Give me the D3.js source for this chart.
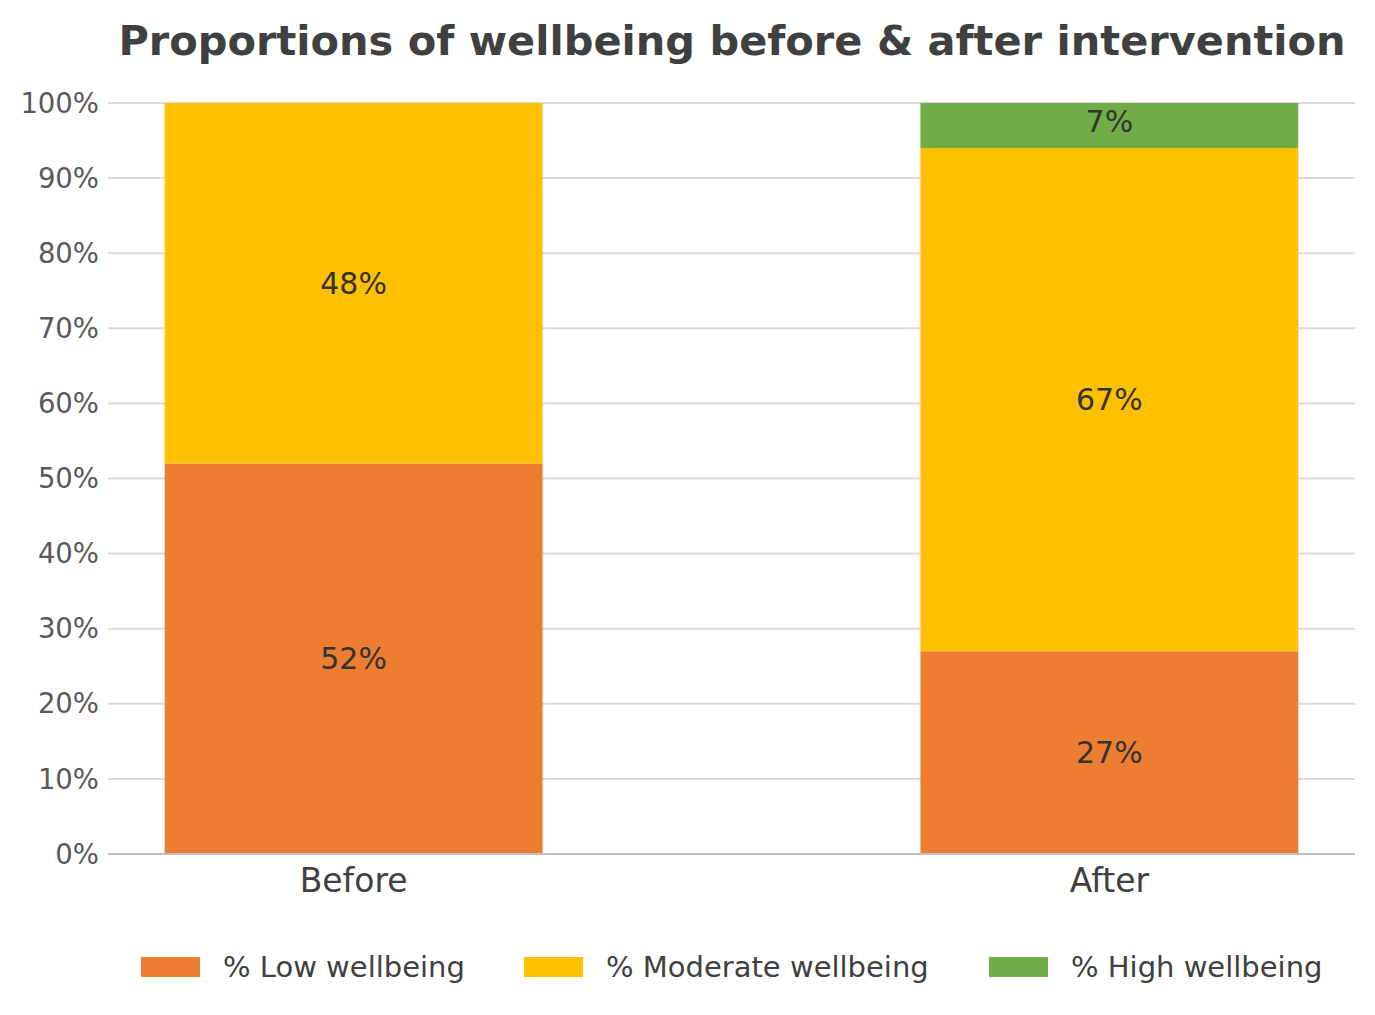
<!DOCTYPE html>
<html>
<head>
<meta charset="utf-8">
<script src="https://cdn.jsdelivr.net/npm/d3@7"></script>
<style>
  body { margin: 0; background: #fff; }
  text { font-family: "DejaVu Sans", sans-serif; }
</style>
</head>
<body>
<div id="chart_container"></div>
<script>
var categories = ["Before", "After"];
var seriesNames = ["% Low wellbeing", "% Moderate wellbeing", "% High wellbeing"];
var lowValues = [52, 27];
var moderateValues = [48, 67];
var highValues = [0, 7];
var yTicks = [0, 10, 20, 30, 40, 50, 60, 70, 80, 90, 100];

var colors = ["#ED7D31", "#FFC000", "#70AD47"];

var width = 1375, height = 1015;
var margin = { top: 103, right: 20, bottom: 161, left: 108 };

var svg = d3.select("#chart_container").append("svg")
    .attr("width", width)
    .attr("height", height);

var x = d3.scaleBand()
    .domain(categories)
    .range([margin.left, width - margin.right])
    .paddingInner(0.5)
    .paddingOuter(0.075);

var y = d3.scaleLinear()
    .domain([0, 100])
    .range([height - margin.bottom, margin.top]);

// build stacked rows
var rows = categories.map(function(c, i) {
    return { cat: c, low: lowValues[i], moderate: moderateValues[i], high: highValues[i] };
});
var keys = ["low", "moderate", "high"];
var stacked = d3.stack().keys(keys)(rows);

// gridlines
svg.append("g")
    .attr("class", "grid")
    .selectAll("line")
    .data(yTicks.filter(function(d) { return d > 0; }))
    .enter().append("line")
    .attr("x1", margin.left)
    .attr("x2", width - margin.right)
    .attr("y1", function(d) { return y(d); })
    .attr("y2", function(d) { return y(d); })
    .attr("stroke", "#d9d9d9")
    .attr("stroke-width", 2);

// y axis labels
svg.append("g")
    .selectAll("text")
    .data(yTicks)
    .enter().append("text")
    .attr("x", 99)
    .attr("y", function(d) { return y(d); })
    .attr("dy", "0.35em")
    .attr("text-anchor", "end")
    .attr("font-size", 27.5)
    .attr("fill", "#595959")
    .text(function(d) { return d + "%"; });

// bars
var layers = svg.append("g").selectAll("g")
    .data(stacked)
    .enter().append("g")
    .attr("fill", function(d, i) { return colors[i]; });

layers.selectAll("rect")
    .data(function(d) { return d.map(function(p) { return { p: p, key: d.key }; }); })
    .enter().append("rect")
    .attr("x", function(d) { return x(d.p.data.cat); })
    .attr("width", x.bandwidth())
    .attr("y", function(d) { return y(Math.min(d.p[1], 100)); })
    .attr("height", function(d) { return y(Math.min(d.p[0], 100)) - y(Math.min(d.p[1], 100)); });

// data labels
layers.selectAll("text")
    .data(function(d) { return d.filter(function(p) { return p[1] - p[0] > 0; }); })
    .enter().append("text")
    .attr("x", function(d) { return x(d.data.cat) + x.bandwidth() / 2; })
    .attr("y", function(d) { return y((d[0] + d[1]) / 2); })
    .attr("dy", "0.35em")
    .attr("text-anchor", "middle")
    .attr("font-size", 30)
    .attr("fill", "#333333")
    .text(function(d) { return (d[1] - d[0]) + "%"; });

// x axis line
svg.append("line")
    .attr("x1", margin.left)
    .attr("x2", width - margin.right)
    .attr("y1", y(0))
    .attr("y2", y(0))
    .attr("stroke", "#bfbfbf")
    .attr("stroke-width", 2);

// x labels
svg.append("g")
    .selectAll("text")
    .data(categories)
    .enter().append("text")
    .attr("x", function(d) { return x(d) + x.bandwidth() / 2; })
    .attr("y", 880)
    .attr("dy", "0.35em")
    .attr("text-anchor", "middle")
    .attr("font-size", 33)
    .attr("fill", "#404040")
    .text(function(d) { return d; });

// title
svg.append("text")
    .attr("x", 732)
    .attr("y", 40)
    .attr("dy", "0.35em")
    .attr("text-anchor", "middle")
    .attr("font-size", 41.5)
    .attr("font-weight", "bold")
    .attr("fill", "#404040")
    .text("Proportions of wellbeing before & after intervention");

// legend
var legendX = [141, 524, 989];
var legend = svg.append("g").selectAll("g")
    .data(seriesNames)
    .enter().append("g")
    .attr("transform", function(d, i) { return "translate(" + legendX[i] + ",957)"; });

legend.append("rect")
    .attr("width", 59)
    .attr("height", 20)
    .attr("fill", function(d, i) { return colors[i]; });

legend.append("text")
    .attr("x", 82)
    .attr("y", 10)
    .attr("dy", "0.35em")
    .attr("font-size", 29)
    .attr("fill", "#404040")
    .text(function(d) { return d; });
</script>
</body>
</html>
